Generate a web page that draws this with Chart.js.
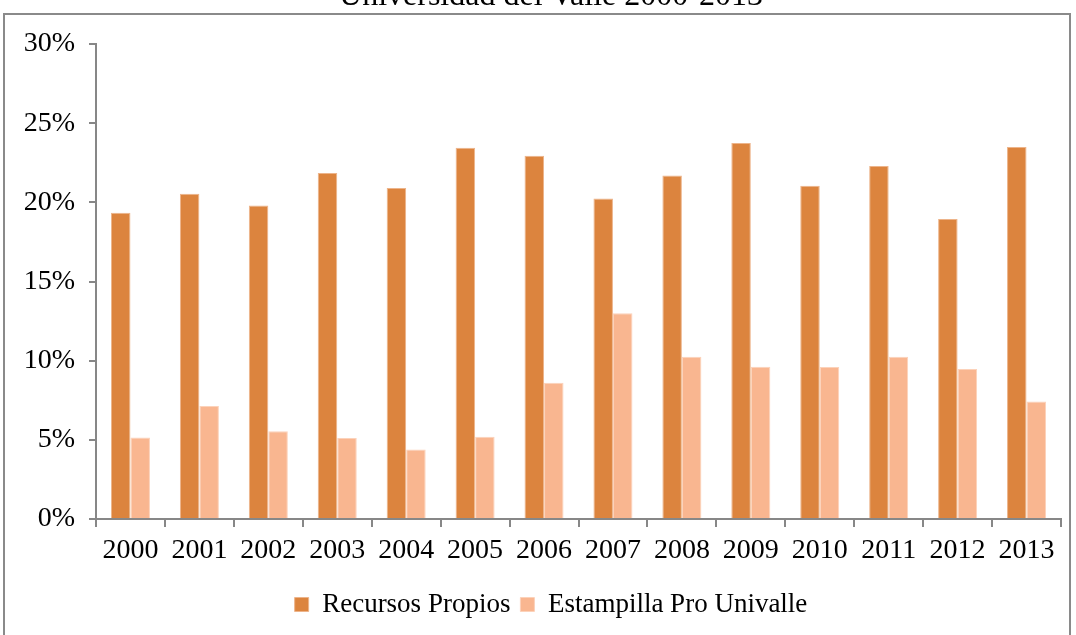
<!DOCTYPE html>
<html>
<head>
<meta charset="utf-8">
<script src="https://cdn.jsdelivr.net/npm/chart.js@4.4.1/dist/chart.umd.min.js"></script>
<style>
  html, body { margin: 0; padding: 0; background: #fff; overflow: hidden; }
  #wrap { position: absolute; left: 0; top: -23px; width: 1076px; height: 658px; }
  #frame { position: absolute; left: 3px; top: 13px; width: 1068px; height: 700px;
           border: 2px solid #8a8a8a; box-sizing: border-box; pointer-events: none; }
</style>
</head>
<body>
<div id="wrap"><canvas id="c" width="1076" height="658"></canvas></div>
<div id="frame"></div>
<script>
const categories = ["2000","2001","2002","2003","2004","2005","2006","2007","2008","2009","2010","2011","2012","2013"];
const recursosPropios = [19.35, 20.55, 19.8, 21.85, 20.9, 23.45, 22.95, 20.25, 21.7, 23.75, 21.05, 22.3, 18.95, 23.5];
const estampilla = [5.15, 7.13, 5.55, 5.11, 4.39, 5.19, 8.61, 13.0, 10.25, 9.62, 9.6, 10.25, 9.47, 7.42];
const seriesNames = ["Recursos Propios", "Estampilla Pro Univalle"];
const titleText = "Universidad del Valle 2000-2013";

const FONT = "'Liberation Serif', 'Times New Roman', serif";
const AXIS = "#878787";

// let the y-axis labels use the space left of the (narrow) axis box
const widenYLabels = {
  id: "widenYLabels",
  afterLayout(chart) { chart.scales.y.left = 0; }
};

new Chart(document.getElementById("c"), {
  type: "bar",
  data: {
    labels: categories,
    datasets: [
      { label: seriesNames[0], data: recursosPropios, backgroundColor: "#DC843E",
        borderColor: "#EDB48A", borderWidth: 1, categoryPercentage: 0.566, barPercentage: 1 },
      { label: seriesNames[1], data: estampilla, backgroundColor: "#F9B690",
        borderColor: "#FCD2BA", borderWidth: 1, categoryPercentage: 0.566, barPercentage: 1 }
    ]
  },
  plugins: [widenYLabels],
  options: {
    responsive: false,
    animation: false,
    layout: { padding: { left: 41, right: 15, top: 0, bottom: 7 } },
    plugins: {
      title: { display: true, text: titleText, color: "#000",
               font: { family: FONT, size: 32, weight: "normal" }, padding: { top: 0, bottom: 28.6 } },
      legend: { position: "bottom",
                labels: { color: "#000", font: { family: FONT, size: 27 }, boxWidth: 14, boxHeight: 14, padding: 10 } },
      tooltip: { enabled: false }
    },
    scales: {
      x: {
        grid: { display: true, drawOnChartArea: false, offset: true, color: AXIS, tickLength: 8, lineWidth: 2 },
        border: { display: true, color: AXIS, width: 2 },
        ticks: { color: "#000", font: { family: FONT, size: 28 }, padding: 7, maxRotation: 0, autoSkip: false },
        afterFit: (s) => { s.height = 62; }
      },
      y: {
        min: 0, max: 30,
        grid: { display: true, drawOnChartArea: false, color: AXIS, tickLength: 7, lineWidth: 2 },
        border: { display: true, color: AXIS, width: 2 },
        ticks: { stepSize: 5, color: "#000", font: { family: FONT, size: 28 }, padding: 14,
                 callback: (v) => v + "%" },
        afterFit: (s) => { s.width = 55; }
      }
    }
  }
});
</script>
</body>
</html>
